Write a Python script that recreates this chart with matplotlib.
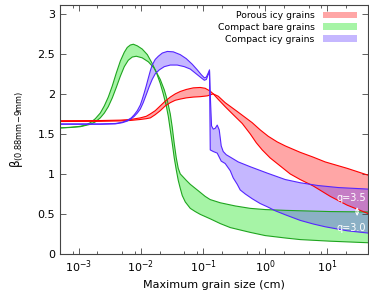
import matplotlib
matplotlib.use("Agg")
import matplotlib.pyplot as plt
import numpy as np
from matplotlib.patches import Patch
from matplotlib.ticker import LogLocator, MultipleLocator, FormatStrFormatter, NullFormatter

# ---- data (maximum grain size in cm, beta) ----
green_a_x = [5e-4, 7.33e-4, 1.06e-3, 1.28e-3, 1.54e-3, 1.85e-3, 2.22e-3, 2.58e-3, 2.99e-3, 3.47e-3,
             4.02e-3, 4.67e-3, 5.41e-3, 6.04e-3, 6.76e-3, 7.55e-3, 8.75e-3, 1.05e-2, 1.27e-2, 1.52e-2,
             1.77e-2, 2.05e-2, 2.29e-2, 2.56e-2, 2.76e-2, 2.97e-2, 3.20e-2, 3.44e-2, 3.71e-2, 3.99e-2,
             4.30e-2, 4.63e-2, 5.18e-2, 6.23e-2, 7.49e-2, 9.01e-2, 0.130, 0.189, 0.274, 0.396,
             0.574, 1.0, 2.10, 3.65, 11.1, 47]
green_a_y = [1.575, 1.58, 1.595, 1.61, 1.64, 1.69, 1.76, 1.85, 1.96, 2.10,
             2.26, 2.41, 2.52, 2.58, 2.61, 2.62, 2.60, 2.56, 2.49, 2.38,
             2.27, 2.13, 2.0, 1.85, 1.72, 1.55, 1.38, 1.2, 1.05, 0.92,
             0.82, 0.73, 0.65, 0.57, 0.53, 0.495, 0.44, 0.38, 0.33, 0.30,
             0.27, 0.23, 0.20, 0.18, 0.16, 0.14]

green_b_x = [5e-4, 1.06e-3, 1.54e-3, 1.85e-3, 2.22e-3, 2.58e-3, 2.99e-3, 3.47e-3, 4.02e-3, 4.67e-3,
             5.41e-3, 6.27e-3, 7.27e-3, 8.43e-3, 1.05e-2, 1.32e-2, 1.64e-2, 2.05e-2, 2.38e-2, 2.66e-2,
             2.97e-2, 3.20e-2, 3.44e-2, 3.71e-2, 3.99e-2, 4.30e-2, 4.81e-2, 5.37e-2, 6.23e-2, 7.49e-2,
             9.01e-2, 0.108, 0.130, 0.189, 0.330, 0.574, 1.0, 2.10, 3.65, 11.1, 47]
green_b_y = [1.575, 1.59, 1.62, 1.65, 1.70, 1.76, 1.84, 1.95, 2.08, 2.22,
             2.34, 2.42, 2.46, 2.47, 2.45, 2.40, 2.32, 2.18, 2.05, 1.92,
             1.75, 1.58, 1.38, 1.2, 1.07, 1.0, 0.96, 0.92, 0.87, 0.82,
             0.77, 0.72, 0.68, 0.64, 0.60, 0.57, 0.555, 0.545, 0.54, 0.53, 0.525]

blue_a_x = [5e-4, 2.22e-3, 3.88e-3, 5.02e-3, 6.04e-3, 7.01e-3, 7.83e-3, 8.75e-3, 9.78e-3, 1.05e-2,
            1.13e-2, 1.22e-2, 1.32e-2, 1.42e-2, 1.52e-2, 1.70e-2, 1.91e-2, 2.21e-2, 2.66e-2, 3.32e-2,
            4.30e-2, 5.37e-2, 6.70e-2, 8.07e-2, 9.35e-2, 0.105, 0.113, 0.121, 0.127, 0.132,
            0.137, 0.146, 0.157, 0.169, 0.182, 0.189, 0.196, 0.211, 0.236, 0.274,
            0.368, 0.574, 1.08, 2.10, 3.65, 7.11, 14.9, 47]
blue_a_y = [1.625, 1.625, 1.63, 1.645, 1.67, 1.70, 1.74, 1.79, 1.86, 1.93,
            2.01, 2.10, 2.20, 2.29, 2.36, 2.43, 2.47, 2.51, 2.53, 2.525,
            2.49, 2.44, 2.37, 2.30, 2.24, 2.20, 2.21, 2.26, 2.30, 1.9,
            1.6, 1.56, 1.57, 1.61, 1.55, 1.45, 1.35, 1.28, 1.24, 1.21,
            1.15, 1.09, 1.01, 0.93, 0.89, 0.855, 0.83, 0.81]

blue_b_x = [5e-4, 2.22e-3, 3.88e-3, 5.02e-3, 6.04e-3, 7.01e-3, 7.83e-3, 8.75e-3, 9.78e-3, 1.09e-2,
            1.22e-2, 1.36e-2, 1.52e-2, 1.70e-2, 1.98e-2, 2.38e-2, 2.97e-2, 3.85e-2, 4.99e-2, 6.23e-2,
            7.78e-2, 9.35e-2, 0.105, 0.113, 0.121, 0.127, 0.1305, 0.146, 0.169, 0.196,
            0.227, 0.274, 0.306, 0.355, 0.396, 0.477, 0.618, 0.831, 1.08, 1.45,
            2.10, 3.65, 5.91, 9.22, 20.8, 47]
blue_b_y = [1.62, 1.62, 1.625, 1.64, 1.66, 1.69, 1.72, 1.76, 1.81, 1.89,
            1.99, 2.09, 2.18, 2.25, 2.30, 2.34, 2.36, 2.36, 2.34, 2.31,
            2.25, 2.20, 2.17, 2.18, 2.24, 2.28, 1.30, 1.28, 1.26, 1.16,
            1.13, 1.04, 0.95, 0.87, 0.80, 0.75, 0.69, 0.63, 0.59, 0.54,
            0.49, 0.42, 0.375, 0.34, 0.29, 0.26]

red_a_x = [5e-4, 2.22e-3, 4.67e-3, 6.76e-3, 9.78e-3, 1.22e-2, 1.42e-2, 1.70e-2, 2.05e-2, 2.47e-2,
           2.97e-2, 3.57e-2, 4.30e-2, 5.37e-2, 6.95e-2, 9.01e-2, 0.108, 0.130, 0.146, 0.176,
           0.227, 0.306, 0.427, 0.574, 0.717, 0.895, 1.20, 1.74, 2.52, 3.65,
           5.91, 11.1, 20.8, 47]
red_a_y = [1.665, 1.667, 1.672, 1.68, 1.70, 1.72, 1.75, 1.79, 1.85, 1.91,
           1.96, 2.0, 2.03, 2.055, 2.075, 2.08, 2.07, 2.035, 2.0, 1.93,
           1.84, 1.74, 1.63, 1.50, 1.39, 1.30, 1.2, 1.10, 1.0, 0.93,
           0.85, 0.72, 0.61, 0.50]

red_b_x = [5e-4, 2.22e-3, 4.67e-3, 6.76e-3, 9.78e-3, 1.22e-2, 1.42e-2, 1.70e-2, 2.05e-2, 2.47e-2,
           2.97e-2, 3.57e-2, 4.30e-2, 5.37e-2, 6.95e-2, 9.01e-2, 0.117, 0.146, 0.176, 0.227,
           0.355, 0.618, 0.831, 1.12, 1.56, 2.10, 3.65, 5.91, 9.22, 20.8, 47]
red_b_y = [1.655, 1.657, 1.662, 1.668, 1.68, 1.69, 1.70, 1.74, 1.79, 1.85,
           1.89, 1.92, 1.935, 1.95, 1.96, 1.965, 1.975, 2.0, 1.97, 1.89,
           1.78, 1.64, 1.55, 1.47, 1.40, 1.35, 1.27, 1.21, 1.15, 1.07, 0.98]

labels = ["Porous icy grains", "Compact bare grains", "Compact icy grains"]
line_colors = ["#ff0000", "#1fa51f", "#5526ff"]
fill_colors = ["#ff0000", "#00e000", "#5a32ff"]

def band(ax, xa, ya, xb, yb, lc, fc):
    xs = np.concatenate([np.asarray(xa), np.asarray(xb)[::-1]])
    ys = np.concatenate([np.asarray(ya), np.asarray(yb)[::-1]])
    ax.fill(xs, ys, color=fc, alpha=0.35, lw=0, zorder=1)
    ax.plot(xa, ya, color=lc, lw=0.8, zorder=2)
    ax.plot(xb, yb, color=lc, lw=0.8, zorder=2)

fig = plt.figure(figsize=(3.69, 2.95), dpi=100)
ax = fig.add_axes([60/369, 41/295, 308/369, 249/295])

band(ax, green_a_x, green_a_y, green_b_x, green_b_y, line_colors[1], fill_colors[1])
band(ax, red_a_x, red_a_y, red_b_x, red_b_y, line_colors[0], fill_colors[0])
band(ax, blue_a_x, blue_a_y, blue_b_x, blue_b_y, line_colors[2], fill_colors[2])

ax.set_xscale("log")
ax.set_xlim(5e-4, 45)
ax.set_ylim(0, 3.11)

ax.xaxis.set_major_locator(LogLocator(base=10, numticks=20))
ax.xaxis.set_minor_locator(LogLocator(base=10, subs=[2, 5, 8], numticks=20))
ax.xaxis.set_minor_formatter(NullFormatter())
ax.yaxis.set_major_locator(MultipleLocator(0.5))
ax.yaxis.set_major_formatter(FormatStrFormatter("%g"))

ax.tick_params(which="both", direction="in", top=True, right=True, colors="#444444",
               labelcolor="black", labelsize=8)
ax.tick_params(which="major", length=4, width=0.6)
ax.tick_params(which="minor", length=2.2, width=0.6)
for s in ax.spines.values():
    s.set_color("#444444")
    s.set_linewidth(0.8)

ax.set_xlabel("Maximum grain size (cm)", fontsize=8, labelpad=3)
ax.set_ylabel(r"β$_{\mathrm{(0.88mm\!-\!9mm)}}$", fontsize=8.5, labelpad=8)

handles = [Patch(facecolor=fc, alpha=0.35, edgecolor="none") for fc in fill_colors]
leg = ax.legend(handles, labels, loc="upper right", bbox_to_anchor=(0.964, 0.975),
                frameon=False, markerfirst=False, fontsize=6.7, borderpad=0, borderaxespad=0,
                handlelength=3.66, handleheight=0.75, handletextpad=0.86, labelspacing=0.3)

ax.text(0.995, 0.70, "q=3.5", color="white", fontsize=7, va="center", ha="right", zorder=5,
        transform=ax.get_yaxis_transform())
ax.text(0.995, 0.325, "q=3.0", color="white", fontsize=7, va="center", ha="right", zorder=5,
        transform=ax.get_yaxis_transform())
ax.annotate("", xy=(30.1, 0.44), xytext=(30.1, 0.62),
            arrowprops=dict(arrowstyle="<->", color="white", lw=0.7, mutation_scale=5), zorder=5)

fig.savefig("out.png", dpi=100)
